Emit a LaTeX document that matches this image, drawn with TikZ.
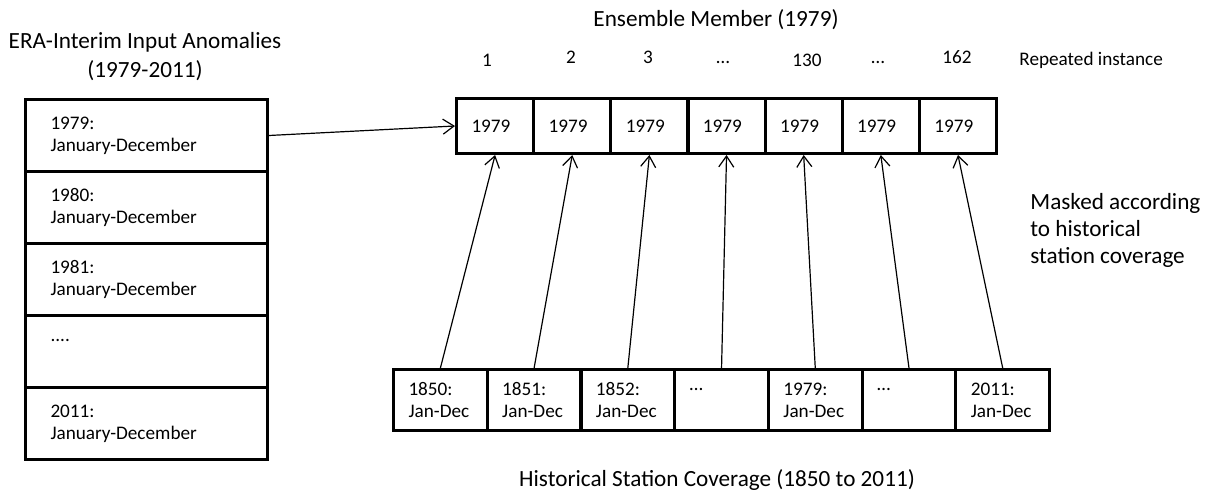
\documentclass[tikz,border=0pt]{standalone}
\usepackage{fontspec}
\setmainfont{Carlito}
\usetikzlibrary{arrows.meta}
\begin{document}
\begin{tikzpicture}[x=0.5pt,y=-0.5pt,
  box/.style={draw=black,line width=1.5pt,anchor=north west,align=left,inner ysep=0pt,
    font=\fontsize{9.6}{11}\selectfont},
  erabox/.style={box,text width=96pt,inner xsep=12.5pt,minimum height=36pt},
  topbox/.style={box,text width=23.6pt,inner xsep=7.5pt,minimum height=27.5pt},
  botbox/.style={box,text width=31.9pt,inner xsep=7.5pt,minimum height=30.5pt},
  small/.style={font=\fontsize{9.6}{11}\selectfont,inner sep=0pt},
  big/.style={font=\fontsize{11.6}{14.5}\selectfont,inner sep=0pt},
  arr/.style={-{Straight Barb[length=5.5pt,width=7.5pt]},line width=0.6pt}]
\useasboundingbox (0,0) rectangle (1218,490);
% left stack
\node[big,align=center] (eratitle) at (145,57) {ERA-Interim Input Anomalies\\(1979-2011)};
\node[erabox] (e1) at (24,98) {1979:\\January-December};
\node[erabox] (e2) at (24,170) {1980:\\January-December};
\node[erabox] (e3) at (24,242) {1981:\\January-December};
\node[erabox] (e4) at (24,314) {....\\~};
\node[erabox] (e5) at (24,386) {2011:\\January-December};
% ensemble row
\node[big] (enstitle) at (716,20) {Ensemble Member (1979)};
\node[topbox] (t1) at (455,97) {1979};
\node[topbox] (t2) at (532.14,97) {1979};
\node[topbox] (t3) at (609.29,97) {1979};
\node[topbox] (t4) at (686.43,97) {1979};
\node[topbox] (t5) at (763.57,97) {1979};
\node[topbox] (t6) at (840.71,97) {1979};
\node[topbox] (t7) at (917.86,97) {1979};
\node[small] (n1) at (487,60) {1};
\node[small] (n2) at (571,57) {2};
\node[small] (n3) at (648,57) {3};
\node[small] (n4) at (723,62) {…};
\node[small] (n5) at (807,60) {130};
\node[small] (n6) at (878,62) {…};
\node[small] (n7) at (957,57) {162};
\node[small,anchor=west] (rep) at (1019,60) {Repeated instance};
% station row
\node[botbox] (b1) at (392,368) {1850:\\Jan-Dec};
\node[botbox] (b2) at (485.71,368) {1851:\\Jan-Dec};
\node[botbox] (b3) at (579.43,368) {1852:\\Jan-Dec};
\node[botbox] (b4) at (673.14,368) {…\\~};
\node[botbox] (b5) at (766.86,368) {1979:\\Jan-Dec};
\node[botbox] (b6) at (860.57,368) {…\\~};
\node[botbox] (b7) at (954.29,368) {2011:\\Jan-Dec};
\node[big] (histtitle) at (717,480) {Historical Station Coverage (1850 to 2011)};
\node[big,anchor=west,align=left,font=\fontsize{11.6}{13.5}\selectfont] (mask) at (1030,230) {Masked according\\to historical\\station coverage};
% connectors
\draw[arr] (e1.east) -- (t1.west);
\foreach \i in {1,...,7}{\draw[arr] (b\i.north) -- (t\i.south);}
\end{tikzpicture}
\end{document}
